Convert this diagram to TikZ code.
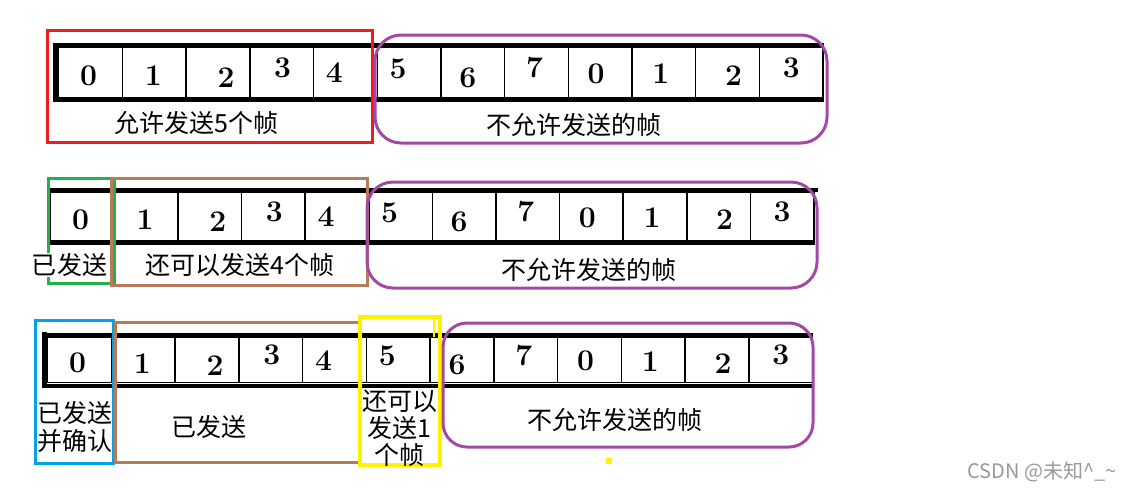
\documentclass[tikz,border=0pt]{standalone}
\usepackage{fontspec}
\newfontfamily\cjk{Noto Sans CJK SC}
\usetikzlibrary{calc}

\definecolor{winred}{HTML}{ED1C24}
\definecolor{winpurple}{HTML}{A349A4}
\definecolor{wingreen}{HTML}{22B14C}
\definecolor{winbrown}{HTML}{B97A57}
\definecolor{winblue}{HTML}{00A2E8}
\definecolor{winyellow}{HTML}{FFF200}

\tikzset{
  cell/.style={draw, line width=0.7pt, minimum width=31.85pt, inner sep=0pt, anchor=north west},
  digit/.style={font=\fontsize{15}{15}\selectfont\bfseries, inner sep=0pt},
  bar/.style={line width=2pt},
  lbl/.style={font=\cjk\fontsize{12.5}{14}\selectfont, inner sep=0pt, align=center},
  box/.style={line width=1.5pt},
}

% digit in each cell, with its small shift inside the cell
\def\digits{0/0/-2/3, 1/1/-1/3, 2/2/8/5, 3/3/1/-5, 4/4/-11/0, 5/5/-11/-4,
  6/6/-5/5, 7/7/-2/-5, 8/0/-4/1, 9/1/-3/1, 10/2/6/3, 11/3/0/-5}

\begin{document}
\begin{tikzpicture}[x=0.5pt, y=-0.5pt]
  \useasboundingbox (0,0) rectangle (1127,499);

  %%%%% ROW 1 %%%%%
  \foreach \i/\d/\dx/\dy in \digits {
    \node[cell, minimum height=25pt] (ra\i) at ({58+63.7*\i},47) {};
    \node[digit] (ra\i d) at ($(ra\i.center)+(\dx,\dy)$) {\d};
  }
  \draw[bar] ($(ra0.north west)+(-5,-2)$) -- ($(ra11.north east)+(0,-2)$);
  \draw[bar] ($(ra0.south west)+(-5,1.5)$) -- ($(ra11.south east)+(0,1.5)$);
  \draw[line width=2.5pt] ($(ra0.north west)+(-2.5,-4)$) -- ($(ra0.south west)+(-2.5,3)$);

  \draw[box, winred] (47,30) rectangle (372,142);
  \draw[box, winpurple, rounded corners=13pt] (375,35) rectangle (827,143);
  \node[lbl] (ok5) at (196.5,123) {允许发送5个帧};
  \node[lbl] (noa) at (573.5,125) {不允许发送的帧};

  %%%%% ROW 2 %%%%%
  \foreach \i/\d/\dx/\dy in \digits {
    \node[cell, minimum height=24pt] (rb\i) at ({50+63.6*\i},192) {};
    \node[digit] (rb\i d) at ($(rb\i.center)+(\dx,\dy)$) {\d};
  }
  \draw[bar] ($(rb0.north west)+(-3,-2)$) -- ($(rb11.north east)+(3,-2)$);
  \draw[bar] ($(rb0.south west)+(-3,2)$) -- ($(rb11.south east)+(0,2)$);
  \draw[line width=2pt] ($(rb0.north west)+(-1.5,-4)$) -- ($(rb0.south west)+(-1.5,4)$);

  \draw[box, wingreen] (48,178) rectangle (114,283);
  \draw[box, winbrown] (111,178) rectangle (367,285);
  \draw[box, winpurple, rounded corners=13pt] (367,182) rectangle (817,288);
  \node[lbl, fill=white] (sent) at (69.5,265) {已发送};
  \node[lbl] (ok4) at (240,265) {还可以发送4个帧};
  \node[lbl] (nob) at (589,270) {不允许发送的帧};

  %%%%% ROW 3 %%%%%
  \foreach \i/\d/\dx/\dy in \digits {
    \node[cell, minimum height=22.5pt] (rc\i) at ({47+63.75*\i},337) {};
    \node[digit] (rc\i d) at ($(rc\i.center)+(\dx,\dy)$) {\d};
  }
  \draw[bar] ($(rc0.north west)+(-3,-2.5)$) -- ($(rc11.north east)+(0,-2.5)$);
  \draw[bar] ($(rc0.south west)+(-3,2.5)$) -- ($(rc11.south east)+(0,2.5)$);
  \draw[line width=2.5pt] ($(rc0.north west)+(-2.5,-5)$) -- ($(rc0.south west)+(-2.5,5)$);

  \draw[box, winblue] (35,320) rectangle (113,463);
  \draw[box, winbrown] (115,322) rectangle (360,462);
  \draw[line width=2.2pt, winyellow] (360,317) rectangle (440,465);
  \draw[line width=1pt, winyellow] (434,317) -- (434,337);
  \fill[winyellow] (606,458) rectangle (612,464);
  \draw[box, winpurple, rounded corners=12pt] (443,323) rectangle (813,447);
  \node[lbl] (ack) at (75,427.5) {已发送\\并确认};
  \node[lbl] (sentb) at (208.5,427) {已发送};
  \node[lbl, font=\cjk\fontsize{12.5}{13.5}\selectfont] (ok1) at (399.5,428) {还可以\\发送1\\个帧};
  \node[lbl] (noc) at (615,420) {不允许发送的帧};

  % watermark
  \node[font=\cjk\fontsize{10}{10}\selectfont, text=black!40, inner sep=0pt] (mark) at (1042,472) {CSDN @未知\^{}\_\textasciitilde};
\end{tikzpicture}
\end{document}
